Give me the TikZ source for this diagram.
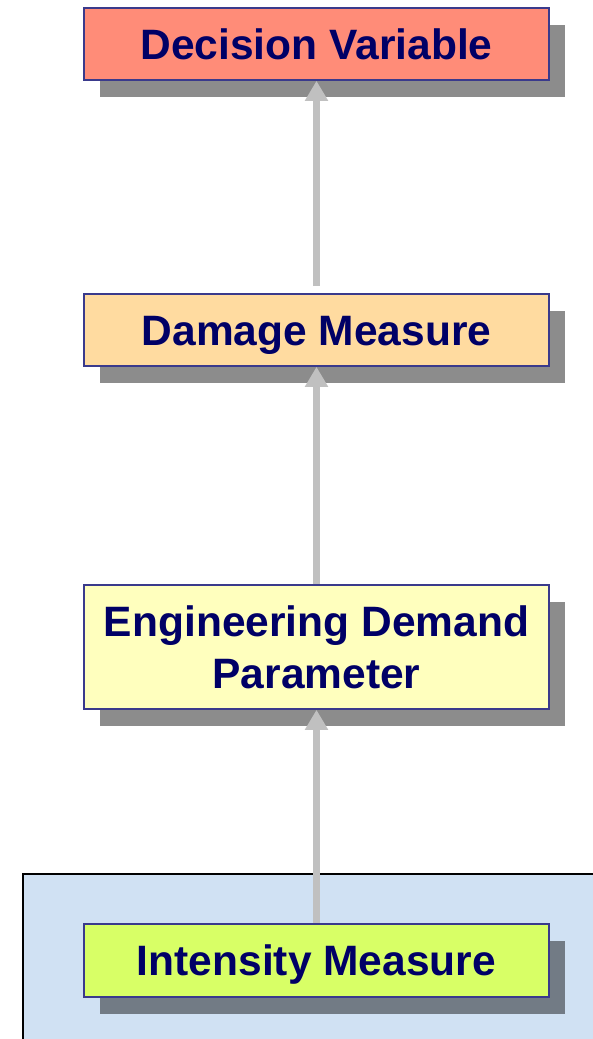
\documentclass[tikz,border=0pt]{standalone}
\usepackage{fontspec}
\setmainfont{Liberation Sans}
\usetikzlibrary{shadows,arrows.meta,calc}
\definecolor{txtnavy}{HTML}{000066}
\definecolor{boxborder}{HTML}{3A3A8C}
\definecolor{dvfill}{HTML}{FF8C78}
\definecolor{dmfill}{HTML}{FFDBA0}
\definecolor{edpfill}{HTML}{FFFFBE}
\definecolor{imfill}{HTML}{D8FF66}
\definecolor{bgblue}{HTML}{D0E1F3}
\definecolor{arrowgray}{HTML}{C0C0C0}
\begin{document}
\begin{tikzpicture}[x=1pt,y=-1pt,
  stagebox/.style={draw=boxborder, line width=1.6pt, minimum width=465pt,
    inner sep=0pt, align=center, text=txtnavy,
    font=\bfseries\fontsize{42.5}{52}\selectfont,
    drop shadow={shadow xshift=15.5pt, shadow yshift=-16.5pt, fill=black, opacity=0.45}},
  oneline/.style={text height=30.5pt, text depth=0pt},
  flow/.style={draw=arrowgray, line width=7pt, -{Triangle[width=22pt,length=20pt]}}
]
\useasboundingbox (0,0) rectangle (593,1039);
\fill[bgblue] (23,874) rectangle (600,1045);
\draw[black, line width=2pt] (23,1045) -- (23,874) -- (600,874);

\node[stagebox, oneline, fill=dvfill, minimum height=72pt] (dv) at (316.5,44) {Decision Variable};
\node[stagebox, oneline, fill=dmfill, minimum height=72pt] (dm) at (316.5,330) {Damage Measure};
\node[stagebox, fill=edpfill, minimum height=124pt] (edp) at (316.5,647) {Engineering Demand\\Parameter};
\node[stagebox, oneline, fill=imfill, minimum height=73pt] (im) at (316.5,960.5) {Intensity Measure};

\draw[flow] (im.north) -- (edp.south);
\draw[flow] (edp.north) -- (dm.south);
\draw[flow] ($(dm.north)+(0,-7)$) -- (dv.south);
\end{tikzpicture}
\end{document}
